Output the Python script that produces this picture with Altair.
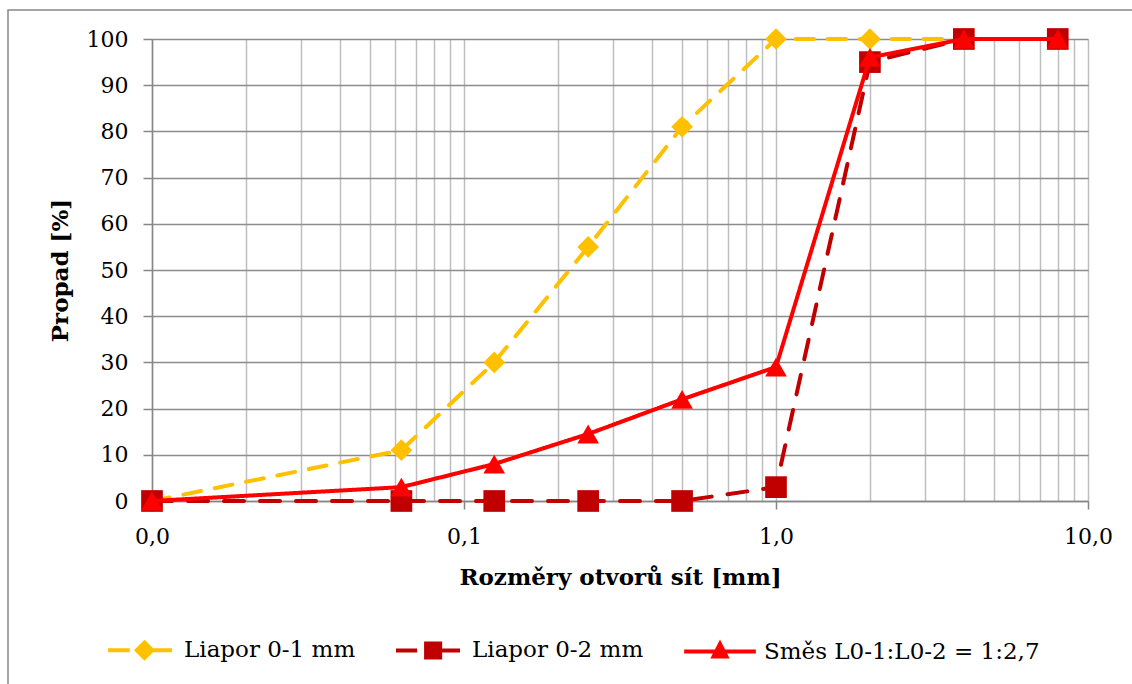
import altair as alt
import pandas as pd

# ---- data ----
sieves = [0.01, 0.063, 0.125, 0.25, 0.5, 1, 2, 4, 8]
series_names = ["Liapor 0-1 mm", "Liapor 0-2 mm", "Směs L0-1:L0-2 = 1:2,7"]
liapor_01 = [0, 11, 30, 55, 81, 100, 100, 100, 100]
liapor_02 = [0, 0, 0, 0, 0, 3, 95, 100, 100]
smes = [0, 3, 8, 14.5, 22, 29, 96, 100, 100]

x_ticks = [0.01, 0.1, 1, 10]
x_tick_labels = ["0,0", "0,1", "1,0", "10,0"]
y_ticks = list(range(0, 101, 10))

colors = ["#FFC000", "#C00000", "#FF0000"]
shapes = ["diamond", "square", "triangle-up"]
dashes = [[18, 14], [20, 16], [1, 0]]

FONT = "DejaVu Serif"

# grid positions of a log axis (1..9 x each decade)
grid_vals = sorted(set([round(m * 10 ** e, 6) for e in range(-2, 1) for m in range(1, 10)] + [10]))

frames = []
for name, vals in zip(series_names, [liapor_01, liapor_02, smes]):
    frames.append(pd.DataFrame({"x": sieves, "y": vals, "series": name}))
df = pd.concat(frames, ignore_index=True)

label_expr = " : ".join(
    f"datum.value == {v} ? '{l}'" for v, l in zip(x_ticks, x_tick_labels)
) + " : ''"

x_enc = alt.X(
    "x:Q",
    scale=alt.Scale(type="log", domain=[0.01, 10], nice=False),
    axis=alt.Axis(
        values=grid_vals,
        labelExpr=label_expr,
        labelOverlap=False,
        labelFlush=False,
        title="Rozměry otvorů sít [mm]",
        grid=True,
        gridColor="#BEBEBE",
        gridWidth=1.5,
        tickOpacity={
            "condition": {
                "test": "abs(log(datum.value)/LN10 - round(log(datum.value)/LN10)) < 0.001",
                "value": 1,
            },
            "value": 0,
        },
        tickSize=8,
        tickColor="#868686",
        tickWidth=1.5,
        domainColor="#868686",
        domainWidth=1.5,
        labelPadding=17,
        titlePadding=19,
    ),
)
y_enc = alt.Y(
    "y:Q",
    scale=alt.Scale(domain=[0, 100], nice=False),
    axis=alt.Axis(
        values=y_ticks,
        title="Propad [%]",
        grid=True,
        gridColor="#8C8C8C",
        gridWidth=1.5,
        tickSize=9,
        tickColor="#868686",
        tickWidth=1.5,
        domainColor="#868686",
        domainWidth=1.5,
        labelPadding=15,
        titlePadding=14,
    ),
)

# legend symbols: line segment + marker + line segment
legend_paths = [
    "M-1,0L-0.32,0M0.14,-0.24L0.38,0L0.14,0.24L-0.1,0ZM0.42,0L1,0",
    "M-1,0L-0.34,0M-0.06,-0.22L0.38,-0.22L0.38,0.22L-0.06,0.22ZM0.38,0L1,0",
    "M-1.12,0L1.12,0M0,-0.24L0.2,0.15L-0.2,0.15Z",
]

legend = alt.Legend(
    title=None,
    orient="none",
    direction="horizontal",
    legendX=-46,
    legendY=577,
    symbolSize=4096,
    symbolStrokeWidth=4,
    symbolOpacity=1,
    labelFontSize=23,
    labelFont=FONT,
    labelColor="black",
    labelOffset=10,
    labelLimit=600,
    columnPadding=32,
    padding=0,
)

layers = []
frame = alt.Chart(pd.DataFrame({"a": [0]})).mark_rect(
    fillOpacity=0, stroke="#868686", strokeWidth=1.5, clip=False
).encode(x=alt.value(-144), x2=alt.value(1400), y=alt.value(-29), y2=alt.value(1000))
layers.append(frame)

for i, name in enumerate(series_names):
    sub = alt.Chart(df[df.series == name])
    line = sub.mark_line(
        color=colors[i], strokeWidth=4, strokeDash=dashes[i], strokeCap="round"
    ).encode(x=x_enc, y=y_enc)
    pts = sub.mark_point(
        filled=True, opacity=1, size=470, shape=shapes[i], color=colors[i]
    ).encode(x=x_enc, y=y_enc)
    layers += [line, pts]

# invisible layer that only supplies the legend
legend_layer = alt.Chart(df).mark_point(
    filled=True, opacity=0, size=4096, strokeWidth=4
).encode(
    x=x_enc,
    y=y_enc,
    fill=alt.Fill("series:N", scale=alt.Scale(domain=series_names, range=colors), legend=legend),
    stroke=alt.Stroke("series:N", scale=alt.Scale(domain=series_names, range=colors), legend=legend),
    shape=alt.Shape("series:N", scale=alt.Scale(domain=series_names, range=legend_paths), legend=legend),
)
layers.append(legend_layer)

chart = alt.layer(*layers).properties(
    width=936,
    height=462,
    autosize=alt.AutoSizeParams(type="none"),
    padding={"left": 152, "top": 39, "right": 44, "bottom": 183},
).configure(
    font=FONT,
    background="white",
).configure_view(
    stroke=None
).configure_axis(
    labelFont=FONT,
    labelFontSize=22,
    labelColor="black",
    titleFont=FONT,
    titleFontSize=23,
    titleFontWeight="bold",
    titleColor="black",
)

chart.save("out.html", embed_options={"renderer": "svg", "actions": False})
